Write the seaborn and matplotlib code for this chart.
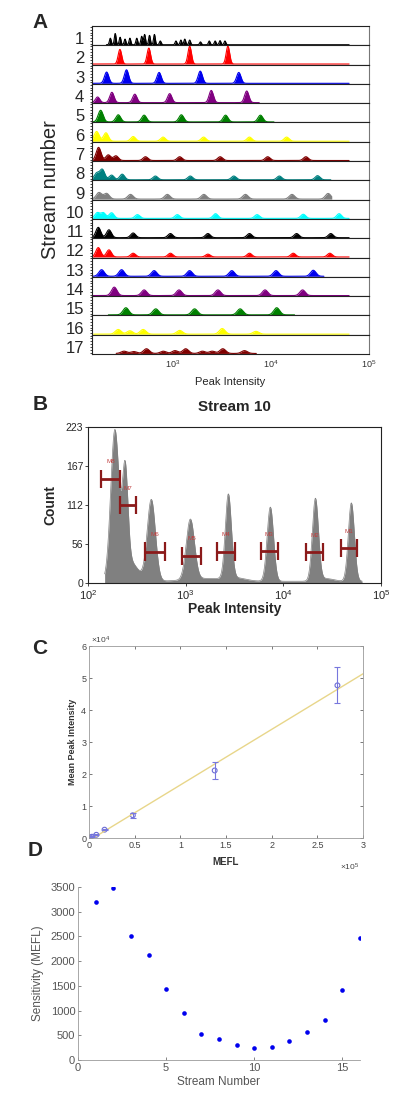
import numpy as np
import matplotlib
matplotlib.use("Agg")
import matplotlib.pyplot as plt
import seaborn as sns
from matplotlib.ticker import FixedLocator, FuncFormatter, NullLocator

# ---------------- data ----------------
# Panel A: peak positions (log10 intensity) and relative heights for each stream
a_colors = ["#000000", "#ff0000", "#0000ee", "#800080", "#008000", "#ffff00",
            "#800000", "#008080", "#808080", "#00ffff", "#000000", "#ff0000",
            "#0000ee", "#800080", "#008000", "#ffff00", "#800000"]
a_peak_pos = [
    [2.36, 2.41, 2.46, 2.51, 2.56, 2.63, 2.68, 2.71, 2.76, 2.81, 2.87, 3.03, 3.08, 3.12, 3.17, 3.28, 3.37, 3.43, 3.48, 3.53],
    [2.458, 2.753, 3.17, 3.56],
    [2.322, 2.525, 2.858, 3.278, 3.671],
    [2.23, 2.376, 2.61, 2.966, 3.39, 3.752],
    [2.261, 2.441, 2.705, 3.085, 3.536, 3.892],
    [2.22, 2.315, 2.593, 2.898, 3.312, 3.78, 4.159],
    [2.24, 2.339, 2.417, 2.719, 3.068, 3.481, 3.966, 4.356],
    [2.22, 2.278, 2.373, 2.481, 2.82, 3.176, 3.62, 4.085, 4.475],
    [2.244, 2.322, 2.566, 2.942, 3.315, 3.739, 4.214, 4.583],
    [2.227, 2.288, 2.373, 2.637, 3.044, 3.434, 3.858, 4.329, 4.695],
    [2.237, 2.346, 2.593, 2.973, 3.356, 3.78, 4.261, 4.61],
    [2.237, 2.346, 2.593, 2.973, 3.356, 3.78, 4.227, 4.6],
    [2.271, 2.475, 2.807, 3.169, 3.6, 4.051, 4.431],
    [2.4, 2.705, 3.061, 3.458, 3.939, 4.322],
    [2.519, 2.824, 3.22, 3.685, 4.058],
    [2.441, 2.56, 2.695, 3.068, 3.502, 3.847],
    [2.5, 2.6, 2.729, 2.9, 3.02, 3.129, 3.3, 3.4, 3.508, 3.729],
]
a_peak_height = [
    [0.35, 0.6, 0.4, 0.3, 0.35, 0.35, 0.45, 0.55, 0.5, 0.55, 0.2, 0.2, 0.25, 0.3, 0.25, 0.15, 0.2, 0.2, 0.22, 0.2],
    [0.78, 0.85, 0.95, 0.95],
    [0.6, 0.72, 0.58, 0.65, 0.58],
    [0.3, 0.55, 0.45, 0.48, 0.65, 0.62],
    [0.62, 0.38, 0.36, 0.38, 0.36, 0.36],
    [0.52, 0.45, 0.25, 0.22, 0.22, 0.22, 0.22],
    [0.7, 0.3, 0.25, 0.2, 0.2, 0.2, 0.2, 0.2],
    [0.35, 0.55, 0.25, 0.3, 0.2, 0.2, 0.2, 0.2, 0.22],
    [0.35, 0.3, 0.25, 0.25, 0.25, 0.25, 0.25, 0.3],
    [0.3, 0.3, 0.3, 0.2, 0.2, 0.25, 0.2, 0.22, 0.25],
    [0.55, 0.42, 0.25, 0.22, 0.22, 0.22, 0.22, 0.22],
    [0.5, 0.38, 0.2, 0.2, 0.15, 0.2, 0.2, 0.2],
    [0.35, 0.35, 0.3, 0.3, 0.3, 0.3, 0.32],
    [0.45, 0.3, 0.3, 0.3, 0.3, 0.3],
    [0.38, 0.32, 0.32, 0.32, 0.38],
    [0.25, 0.18, 0.25, 0.2, 0.3, 0.15],
    [0.12, 0.1, 0.25, 0.12, 0.15, 0.25, 0.12, 0.12, 0.25, 0.15],
]
a_peak_width = [0.009, 0.018, 0.022, 0.022, 0.025, 0.025, 0.025, 0.025, 0.028, 0.025,
                0.025, 0.025, 0.028, 0.028, 0.03, 0.03, 0.03]
a_span_start = [2.32, 2.17, 2.17, 2.17, 2.17, 2.17, 2.17, 2.17, 2.17, 2.17, 2.17, 2.17,
                2.17, 2.17, 2.34, 2.19, 2.42]
a_span_end = [4.797, 4.797, 4.797, 3.88, 4.03, 4.797, 4.797, 4.61, 4.62, 4.797, 4.797,
              4.797, 4.54, 4.797, 4.24, 4.797, 3.85]

# Panel B: stream 10 histogram peaks (intensity, count) and gate markers
b_peak_pos = [188, 240, 445, 1117, 2735, 7360, 21300, 49700]
b_peak_count = [208, 136, 116, 86, 120, 106, 117, 112]
b_peak_width = [0.042, 0.028, 0.042, 0.042, 0.031, 0.033, 0.031, 0.031]
b_tail_pos = [260, 1600, 3300, 27000]
b_tail_count = [30, 4, 4, 4]
b_tail_width = [0.09, 0.2, 0.1, 0.08]
b_floor = 2.5
b_range = [148, 64000]
m_labels = ["M8", "M7", "M6", "M5", "M4", "M3", "M2", "M1"]
m_lo = [137, 211, 386, 925, 2094, 5861, 17180, 38900]
m_hi = [211, 308, 610, 1435, 3228, 8810, 25470, 57150]
m_count = [149, 111, 45, 39, 45, 46, 44, 50]

# Panel C: calibration
c_mefl = [1500, 3300, 8000, 17000, 48000, 137600, 272000]
c_peak = [200, 400, 1000, 2600, 7100, 21100, 47700]
c_err = [80, 100, 150, 250, 750, 2600, 5600]
c_fit_slope = 0.1737
c_fit_intercept = -800
c_fit_x = [0, 300000]

# Panel D: sensitivity per stream
d_stream = list(range(1, 17))
d_sens = [3200, 3470, 2510, 2120, 1440, 960, 520, 430, 310, 240, 260, 380, 560, 800, 1410, 2460]

# ---------------- figure ----------------
sns.set_theme(style="white")
plt.rcParams['font.family'] = ['Liberation Sans', 'DejaVu Sans']
plt.rcParams['mathtext.default'] = 'regular'

W, H = 400, 1102
fig = plt.figure(figsize=(W / 100, H / 100), dpi=100)


def box(l, t, r, b):
    return [l / W, 1 - b / H, (r - l) / W, (b - t) / H]


def gauss_sum(lx, pos, hts, wid):
    y = np.zeros_like(lx)
    for p, h, w in zip(pos, hts, np.broadcast_to(wid, (len(pos),))):
        y += h * np.exp(-0.5 * ((lx - p) / w) ** 2)
    return y


# ---------------- Panel A ----------------
a_top, a_bot = 26, 354
n = len(a_colors)
strip = (a_bot - a_top) / n
for i in range(n):
    ax = fig.add_axes(box(92, a_top + i * strip, 369, a_top + (i + 1) * strip))
    ax.set_xscale("log")
    lx = np.linspace(a_span_start[i], a_span_end[i], 900)
    y = gauss_sum(lx, a_peak_pos[i], a_peak_height[i], a_peak_width[i])
    ax.fill_between(10 ** lx, y, 0, color=a_colors[i], lw=0)
    sns.lineplot(x=10 ** lx, y=y, color=a_colors[i], lw=0.8, ax=ax)
    ax.set_xlim(10 ** 2.173, 1e5)
    ax.set_ylim(-0.03, 1.0)
    ax.set_yticks([0.35])
    ax.set_yticklabels([str(i + 1)], fontsize=12)
    ax.yaxis.set_minor_locator(FixedLocator([0.05, 0.2, 0.5, 0.65, 0.8, 0.95]))
    ax.tick_params(axis="y", which="both", direction="out", length=1.5, width=0.6, pad=4, left=True)
    for s in ax.spines.values():
        s.set_color("#222222")
        s.set_linewidth(0.8)
    ax.spines["right"].set_color("#777777")
    if i == n - 1:
        ax.set_xticks([1e3, 1e4, 1e5])
        ax.set_xticklabels(["$10^3$", "$10^4$", "$10^5$"], fontsize=6.5, color="#333333")
        ax.xaxis.set_minor_locator(NullLocator())
        ax.tick_params(axis="x", length=0, pad=3)
    else:
        ax.set_xticks([])
        ax.xaxis.set_minor_locator(NullLocator())

fig.text(50 / W, 1 - 190 / H, "Stream number", rotation=90, fontsize=14.5, ha="center", va="center")
fig.text(230 / W, 1 - 382 / H, "Peak Intensity", fontsize=8, ha="center", va="center")

# ---------------- Panel B ----------------
axb = fig.add_axes(box(88, 427, 381, 583))
axb.set_xscale("log")
lx = np.linspace(np.log10(b_range[0]), np.log10(b_range[1]), 1500)
yb = gauss_sum(lx, np.log10(b_peak_pos), b_peak_count, b_peak_width)
yb += gauss_sum(lx, np.log10(b_tail_pos), b_tail_count, b_tail_width) + b_floor
axb.fill_between(10 ** lx, yb, 0, color="#808080", lw=0)
sns.lineplot(x=10 ** lx, y=yb, color="#808080", lw=0.5, ax=axb)
mark_col = "#8b1a1a"
axb.hlines(m_count, m_lo, m_hi, color=mark_col, lw=2)
axb.vlines(m_lo, np.array(m_count) - 13, np.array(m_count) + 13, color=mark_col, lw=1.6)
axb.vlines(m_hi, np.array(m_count) - 13, np.array(m_count) + 13, color=mark_col, lw=1.6)
for lab, lo, hi, c in zip(m_labels, m_lo, m_hi, m_count):
    axb.text(np.sqrt(lo * hi), c + 24, lab, color="#c04040", fontsize=4.5, ha="center", va="center")
axb.set_xlim(1e2, 1e5)
axb.set_ylim(0, 223)
axb.set_yticks([0, 56, 112, 167, 223])
axb.set_yticklabels(["0", "56", "112", "167", "223"], fontsize=7.5)
axb.set_xticks([1e2, 1e3, 1e4, 1e5])
axb.set_xticklabels(["$10^2$", "$10^3$", "$10^4$", "$10^5$"], fontsize=8)
axb.xaxis.set_minor_locator(NullLocator())
axb.tick_params(axis="both", direction="out", length=2, width=0.6, pad=1.5, left=True, bottom=True)
for s in axb.spines.values():
    s.set_color("#222222")
    s.set_linewidth(0.8)
axb.set_ylabel("Count", fontsize=10, fontweight="bold", labelpad=6)
axb.set_xlabel("Peak Intensity", fontsize=10, fontweight="bold", labelpad=0)
fig.text(234 / W, 1 - 407 / H, "Stream 10", fontsize=11, fontweight="bold", ha="center", va="center")

# ---------------- Panel C ----------------
axc = fig.add_axes(box(89, 646, 363, 838))
fit_y = [c_fit_slope * x + c_fit_intercept for x in c_fit_x]
sns.lineplot(x=c_fit_x, y=fit_y, color="#e8d68a", lw=1, ax=axc)
axc.errorbar(c_mefl, c_peak, yerr=c_err, fmt="none", ecolor="#7777dd", elinewidth=0.8, capsize=2, capthick=0.8)
sns.scatterplot(x=c_mefl, y=c_peak, marker="o", s=12, facecolor="none", edgecolor="#6b6bd6", linewidth=0.8, ax=axc)
axc.set_xlim(0, 300000)
axc.set_ylim(0, 60000)
axc.set_xticks(np.arange(0, 300001, 50000))
axc.set_yticks(np.arange(0, 60001, 10000))
axc.xaxis.set_major_formatter(FuncFormatter(lambda v, p: f"{v / 1e5:g}"))
axc.yaxis.set_major_formatter(FuncFormatter(lambda v, p: f"{v / 1e4:g}"))
axc.tick_params(axis="both", direction="in", length=2.5, width=0.5, labelsize=6.5, colors="#444444",
                pad=2, left=True, bottom=True, right=True, top=True)
for s in axc.spines.values():
    s.set_color("#9a9a9a")
    s.set_linewidth(0.6)
axc.set_xlabel("MEFL", fontsize=7, fontweight="bold", color="#333333", labelpad=5)
axc.set_ylabel("Mean Peak Intensity", fontsize=6.5, fontweight="bold", color="#333333", labelpad=3)
fig.text(91 / W, 1 - 640 / H, r"$\times10^4$", fontsize=6, color="#444444", ha="left", va="center")
fig.text(350 / W, 1 - 867 / H, r"$\times10^5$", fontsize=6, color="#444444", ha="center", va="center")

# ---------------- Panel D ----------------
axd = fig.add_axes(box(78, 887, 360, 1060))
sns.scatterplot(x=d_stream, y=d_sens, color="#0000ee", s=11, linewidth=0, ax=axd)
axd.set_xlim(0, 16)
axd.set_ylim(0, 3500)
axd.set_xticks([0, 5, 10, 15])
axd.set_yticks(np.arange(0, 3501, 500))
axd.tick_params(axis="both", direction="in", length=2.5, width=0.5, labelsize=8, colors="#555555",
                pad=2, left=True, bottom=True)
for side in ["top", "right"]:
    axd.spines[side].set_visible(False)
for side in ["left", "bottom"]:
    axd.spines[side].set_color("#9a9a9a")
    axd.spines[side].set_linewidth(0.6)
axd.set_xlabel("Stream Number", fontsize=8.5, color="#555555", labelpad=2)
axd.set_ylabel("Sensitivity (MEFL)", fontsize=8.5, color="#555555", labelpad=5)

# panel letters
for lab, (px, py) in zip("ABCD", [(40, 22), (40, 405), (40, 649), (35, 850)]):
    fig.text(px / W, 1 - py / H, lab, fontsize=15, fontweight="bold", ha="center", va="center")

fig.savefig("out.png", dpi=100)
